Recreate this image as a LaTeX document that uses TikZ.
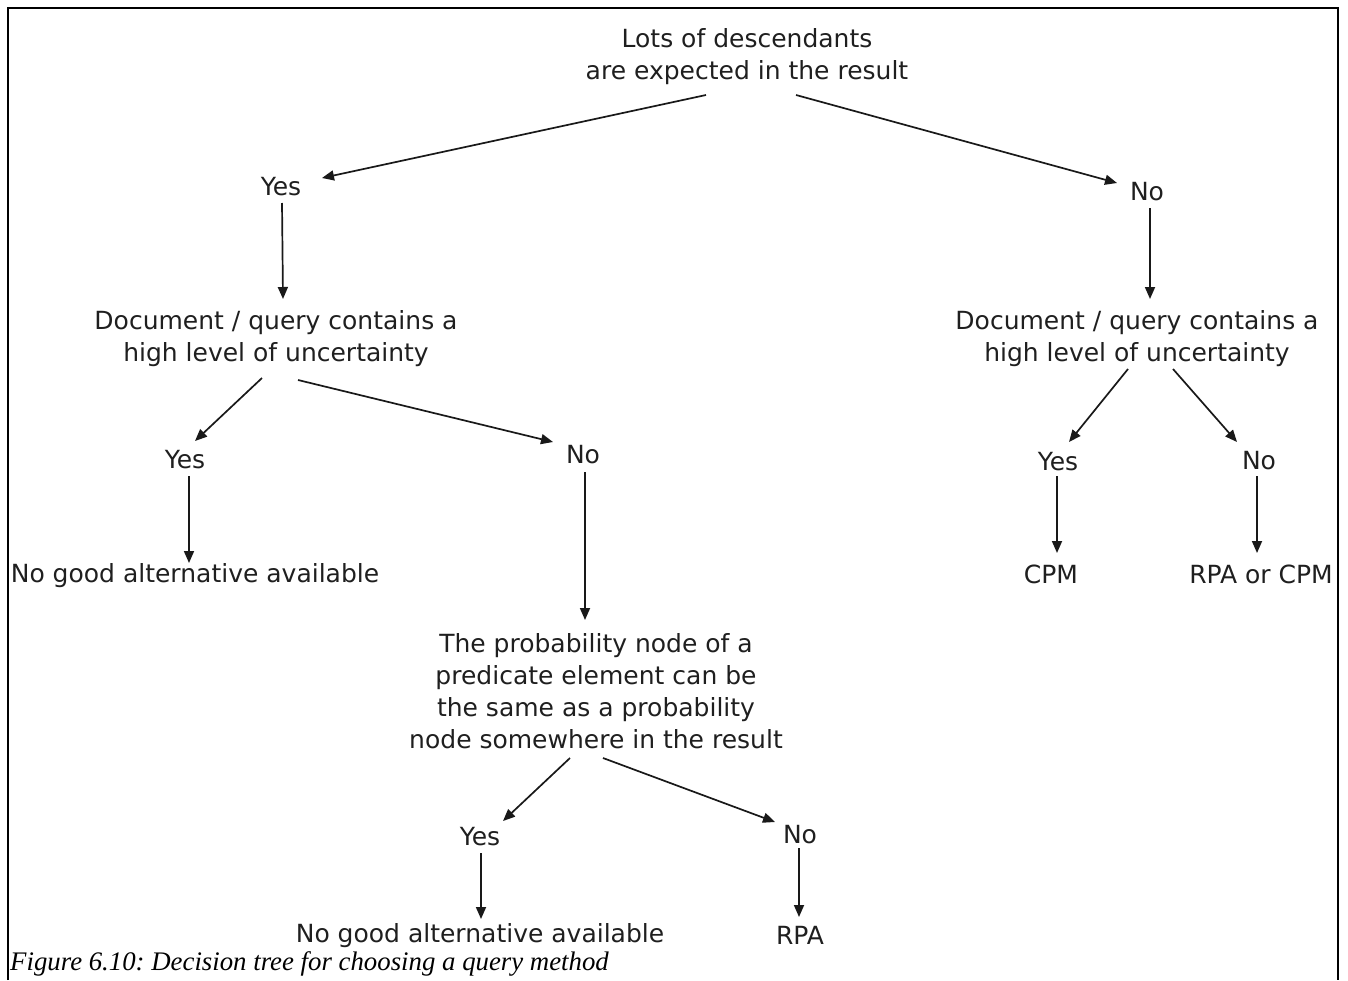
\documentclass[tikz,border=0pt]{standalone}
\usepackage{fontspec}
\setmainfont{DejaVu Sans}
\newfontfamily\captionfont{Liberation Serif}
\usetikzlibrary{arrows.meta}
\frenchspacing
\begin{document}
\begin{tikzpicture}[x=1pt,y=-1pt,
  lbl/.style={font=\fontsize{25}{32}\selectfont, align=center, inner sep=0pt, text=black!88},
  arr/.style={-{Triangle[length=12pt,width=10pt]}, line width=1.7pt, black!90},
  frame/.style={line width=2pt, black}
]
\useasboundingbox (0,0) rectangle (1348,980);

% open frame around the figure
\draw[frame] (7.5,980) -- (7.5,7.5) -- (1337.5,7.5) -- (1337.5,980);

% decision nodes and outcomes
\node[lbl] (root)   at (747,57)  {Lots of descendants\\are expected in the result};
\node[lbl] (yes1)   at (281,187) {Yes};
\node[lbl] (no1)    at (1147,192) {No};
\node[lbl] (doc1)   at (276,339) {Document / query contains a\\high level of uncertainty};
\node[lbl] (doc2)   at (1137,339) {Document / query contains a\\high level of uncertainty};
\node[lbl] (yes2)   at (185,460) {Yes};
\node[lbl] (no2)    at (583,455) {No};
\node[lbl] (ng1)    at (195,576) {No good alternative available};
\node[lbl] (yes3)   at (1058,462) {Yes};
\node[lbl] (no3)    at (1259,461) {No};
\node[lbl] (cpm)    at (1051,574) {CPM};
\node[lbl] (rpacpm) at (1261,574) {RPA or CPM};
\node[lbl] (prob)   at (596,691) {The probability node of a\\predicate element can be\\the same as a probability\\node somewhere in the result};
\node[lbl] (yes4)   at (480,837) {Yes};
\node[lbl] (no4)    at (800,835) {No};
\node[lbl] (ng2)    at (480,936) {No good alternative available};
\node[lbl] (rpa)    at (800,935) {RPA};

% caption
\node[anchor=base west, inner sep=0pt, font=\captionfont\itshape\fontsize{26.8}{30}\selectfont]
  (cap) at (10,970) {Figure 6.10: Decision tree for choosing a query method};

% connectors
\draw[arr] ([shift={(-41,38)}]root.center) -- ([shift={(41,-9)}]yes1.center);
\draw[arr] ([shift={(49,38)}]root.center)  -- ([shift={(-30,-9)}]no1.center);
\draw[arr] ([shift={(1,16)}]yes1.center)   -- ([shift={(7,-40)}]doc1.center);
\draw[arr] ([shift={(3,16)}]no1.center)    -- ([shift={(13,-40)}]doc2.center);
\draw[arr] ([shift={(-14,39)}]doc1.center) -- ([shift={(10,-19)}]yes2.center);
\draw[arr] ([shift={(22,41)}]doc1.center)  -- ([shift={(-30,-13)}]no2.center);
\draw[arr] ([shift={(-9,30)}]doc2.center)  -- ([shift={(11,-20)}]yes3.center);
\draw[arr] ([shift={(36,30)}]doc2.center)  -- ([shift={(-22,-19)}]no3.center);
\draw[arr] ([shift={(4,16)}]yes2.center)   -- ([shift={(-6,-13)}]ng1.center);
\draw[arr] ([shift={(2,17)}]no2.center)    -- ([shift={(-11,-71)}]prob.center);
\draw[arr] ([shift={(-1,14)}]yes3.center)  -- ([shift={(6,-21)}]cpm.center);
\draw[arr] ([shift={(-2,15)}]no3.center)   -- ([shift={(-4,-21)}]rpacpm.center);
\draw[arr] ([shift={(-26,67)}]prob.center) -- ([shift={(23,-16)}]yes4.center);
\draw[arr] ([shift={(7,67)}]prob.center)   -- ([shift={(-25,-13)}]no4.center);
\draw[arr] ([shift={(1,16)}]yes4.center)   -- ([shift={(1,-17)}]ng2.center);
\draw[arr] ([shift={(-1,13)}]no4.center)   -- ([shift={(-1,-18)}]rpa.center);
\end{tikzpicture}
\end{document}
